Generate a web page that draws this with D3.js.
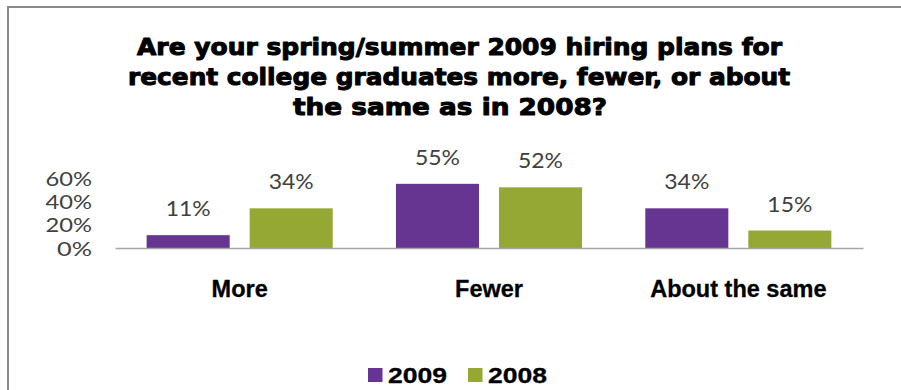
<!DOCTYPE html>
<html>
<head>
<meta charset="utf-8">
<script src="https://cdn.jsdelivr.net/npm/d3@7"></script>
<style>
  html, body { margin: 0; padding: 0; background: #fff; }
  svg { display: block; }
</style>
</head>
<body>
<svg id="chart" width="901" height="390"></svg>
<script>
// Survey answers and yearly shares
const categories = ["More", "Fewer", "About the same"];
const seriesNames = ["2009", "2008"];
const values2009 = [0.11, 0.55, 0.34];
const values2008 = [0.34, 0.52, 0.15];
const yTicks = [0, 0.2, 0.4, 0.6];
const titleLines = [
  "Are your spring/summer 2009 hiring plans for",
  "recent college graduates more, fewer, or about",
  "the same as in 2008?"
];

const seriesValues = { "2009": values2009, "2008": values2008 };
const colors = d3.scaleOrdinal().domain(seriesNames).range(["#663592", "#95A833"]);

const svg = d3.select("#chart");

// frame
svg.append("rect")
  .attr("x", 8).attr("y", 7)
  .attr("width", 1000).attr("height", 1000)
  .attr("fill", "#fff")
  .attr("stroke", "#8a8a8a")
  .attr("stroke-width", 2);

// title (heavy face, thickened with a thin outline)
const titleLayout = [
  { x: 137, y: 55, len: 645 },
  { x: 128, y: 85, len: 662 },
  { x: 293, y: 115, len: 314 }
];
svg.append("g").selectAll("text")
  .data(titleLines)
  .join("text")
  .attr("x", (d, i) => titleLayout[i].x)
  .attr("y", (d, i) => titleLayout[i].y)
  .attr("textLength", (d, i) => titleLayout[i].len)
  .attr("lengthAdjust", "spacingAndGlyphs")
  .attr("font-family", "'DejaVu Sans', sans-serif")
  .attr("font-weight", "bold")
  .attr("font-size", 23.5)
  .attr("fill", "#000")
  .attr("stroke", "#000")
  .attr("stroke-width", 1)
  .attr("stroke-linejoin", "round")
  .text(d => d);

// scales
const plotLeft = 115, plotRight = 863;
const x0 = d3.scaleBand().domain(categories).range([plotLeft, plotRight]).padding(0);
const x1 = d3.scaleBand().domain(seriesNames).range([0, x0.bandwidth()])
  .paddingInner(0.194).paddingOuter(0.307);
const y = d3.scaleLinear().domain([0, 0.6]).range([248, 178]);

// y axis labels, packed tightly
const yAxis = svg.append("g")
  .attr("transform", `translate(${plotLeft - 23},0)`)
  .call(d3.axisLeft(y).tickValues(yTicks).tickSize(0).tickPadding(0)
    .tickFormat(d3.format(".0%")));
yAxis.select(".domain").remove();
yAxis.selectAll("text")
  .attr("font-family", "Lato, 'Open Sans', sans-serif")
  .attr("font-size", 19.5)
  .attr("fill", "#404040")
  .attr("dy", "0.36em")
  .attr("textLength", d => d === 0 ? 35 : 46.5)
  .attr("lengthAdjust", "spacingAndGlyphs");

// bars
const groups = svg.append("g").selectAll("g")
  .data(categories)
  .join("g")
  .attr("transform", d => `translate(${x0(d)},0)`);

const cells = (c, i) => seriesNames.map(s => ({ series: s, value: seriesValues[s][i] }));

groups.selectAll("rect")
  .data(cells)
  .join("rect")
  .attr("x", d => x1(d.series))
  .attr("y", d => y(d.value))
  .attr("width", x1.bandwidth())
  .attr("height", d => y(0) - y(d.value))
  .attr("fill", d => colors(d.series));

groups.selectAll("text")
  .data(cells)
  .join("text")
  .attr("x", d => x1(d.series) + x1.bandwidth() / 2)
  .attr("y", d => y(d.value) - 19)
  .attr("text-anchor", "middle")
  .attr("font-family", "Lato, 'Open Sans', sans-serif")
  .attr("font-size", 21.5)
  .attr("fill", "#404040")
  .attr("textLength", 45)
  .attr("lengthAdjust", "spacingAndGlyphs")
  .text(d => d3.format(".0%")(d.value));

// category axis with baseline
const xAxis = svg.append("g")
  .attr("transform", `translate(0,${y(0)})`)
  .call(d3.axisBottom(x0).tickSize(0).tickSizeOuter(0));
xAxis.select(".domain").attr("stroke", "#a6a6a6").attr("stroke-width", 1.5);
xAxis.selectAll("text")
  .attr("y", 48.5)
  .attr("dy", 0)
  .attr("font-family", "'Liberation Sans', Arial, sans-serif")
  .attr("font-weight", "bold")
  .attr("font-size", 23.5)
  .attr("fill", "#000")
  .attr("stroke", "#000")
  .attr("stroke-width", 0.3);

// legend
const legend = svg.append("g").selectAll("g")
  .data(seriesNames)
  .join("g")
  .attr("transform", (d, i) => `translate(${368 + i * 100},368)`);
legend.append("rect")
  .attr("width", 14.5).attr("height", 14)
  .attr("fill", d => colors(d));
legend.append("text")
  .attr("x", 20)
  .attr("y", 14.7)
  .attr("font-family", "'Liberation Sans', Arial, sans-serif")
  .attr("font-weight", "bold")
  .attr("font-size", 21.5)
  .attr("fill", "#000")
  .attr("stroke", "#000")
  .attr("stroke-width", 0.3)
  .attr("textLength", 59)
  .attr("lengthAdjust", "spacingAndGlyphs")
  .text(d => d);
</script>
</body>
</html>
